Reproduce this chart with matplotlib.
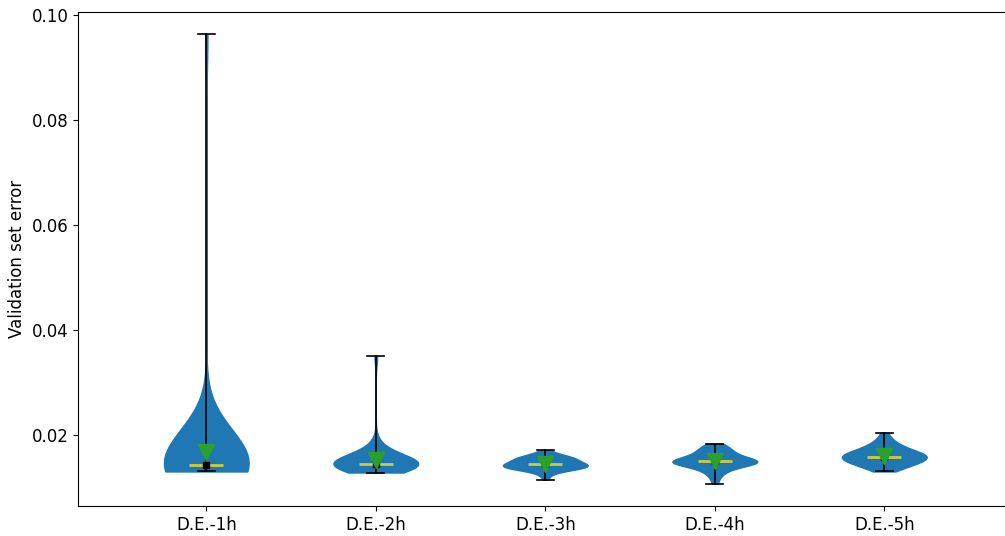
import numpy as np
import matplotlib.pyplot as plt

labels = ['D.E.-1h', 'D.E.-2h', 'D.E.-3h', 'D.E.-4h', 'D.E.-5h']

# validation error of every run, one list per network depth
err_1h = [0.0130, 0.0131, 0.0132, 0.0133, 0.0134, 0.0135, 0.0135, 0.0136, 0.0136, 0.0137,
          0.0137, 0.0138, 0.0138, 0.0139, 0.0139, 0.0140, 0.0140, 0.0141, 0.0141, 0.0142,
          0.0143, 0.0144, 0.0145, 0.0146, 0.0147, 0.0148, 0.0149, 0.0150, 0.0151, 0.0152,
          0.0153, 0.0155, 0.0157, 0.0160, 0.0164, 0.0170, 0.0178, 0.0185, 0.0200, 0.0963]
err_2h = [0.0128, 0.0131, 0.0133, 0.0135, 0.0136, 0.0137, 0.0138, 0.0139, 0.0140, 0.0140,
          0.0141, 0.0141, 0.0142, 0.0142, 0.0143, 0.0143, 0.0143, 0.0144, 0.0144, 0.0144,
          0.0145, 0.0145, 0.0146, 0.0146, 0.0147, 0.0148, 0.0149, 0.0150, 0.0151, 0.0152,
          0.0153, 0.0155, 0.0157, 0.0159, 0.0162, 0.0165, 0.0170, 0.0176, 0.0185, 0.0350]
err_3h = [0.01145, 0.0124, 0.0128, 0.0131, 0.0133, 0.0134, 0.0135, 0.0136, 0.0137, 0.0137,
          0.0138, 0.0138, 0.0139, 0.0139, 0.0140, 0.0141, 0.0142, 0.0142, 0.0143, 0.0144,
          0.0144, 0.0145, 0.0146, 0.0147, 0.0148, 0.0149, 0.0150, 0.0151, 0.0152, 0.0153,
          0.0154, 0.0155, 0.0156, 0.0157, 0.0158, 0.0159, 0.0160, 0.0162, 0.0165, 0.0170]
err_4h = [0.0107, 0.0118, 0.0125, 0.0129, 0.0132, 0.0135, 0.0138, 0.0140, 0.0142, 0.0143,
          0.0144, 0.0145, 0.0146, 0.0146, 0.0147, 0.0147, 0.0148, 0.0148, 0.0149, 0.0149,
          0.0149, 0.0150, 0.0151, 0.0152, 0.0153, 0.0154, 0.0155, 0.0156, 0.0158, 0.0160,
          0.0162, 0.0164, 0.0166, 0.0168, 0.0170, 0.0172, 0.0174, 0.0177, 0.0180, 0.0183]
err_5h = [0.0130, 0.0133, 0.0136, 0.0138, 0.0140, 0.0142, 0.0144, 0.0145, 0.0146, 0.0148,
          0.0149, 0.0150, 0.0151, 0.0152, 0.0153, 0.0154, 0.0155, 0.0156, 0.0157, 0.0158,
          0.0159, 0.0160, 0.0161, 0.0162, 0.0163, 0.0164, 0.0165, 0.0166, 0.0167, 0.0168,
          0.0170, 0.0172, 0.0174, 0.0176, 0.0178, 0.0181, 0.0184, 0.0188, 0.0194, 0.0204]

data = [err_1h, err_2h, err_3h, err_4h, err_5h]
pos = np.arange(1, len(data) + 1)

fig = plt.figure(figsize=(10.05, 5.36), dpi=100)
ax = fig.add_axes([0.0776, 0.056, 0.93, 0.9216])

parts = ax.violinplot(data, positions=pos, showextrema=False)
for body in parts['bodies']:
    body.set_facecolor('#1f77b4')
    body.set_edgecolor('#1f77b4')
    body.set_alpha(1)

ax.boxplot(data, positions=pos, widths=0.2, whis=(0, 100),
           showbox=False, showfliers=False, showmeans=True,
           whiskerprops=dict(color='black', linewidth=1.2),
           capprops=dict(color='black', linewidth=1.2),
           medianprops=dict(color='#cccc33', linewidth=2),
           meanprops=dict(marker='v', markerfacecolor='#2ca02c',
                          markeredgecolor='#2ca02c', markersize=11, zorder=4))

# median as a small black dot under the mean marker
medians = np.median(data, axis=1)
ax.scatter(pos, medians, marker='s', color='black', s=22, zorder=3)

ax.set_xticks(pos)
ax.set_xticklabels(labels, fontsize=12)
ax.tick_params(axis='y', labelsize=12)
ax.set_xlim(0.243, 5.757)
ax.set_ylabel('Validation set error', fontsize=12)

plt.savefig('out.png', dpi=100)
